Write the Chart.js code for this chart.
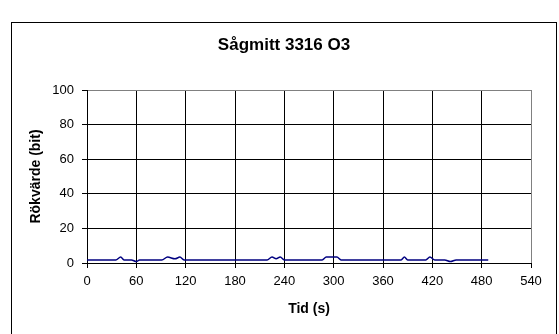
<!DOCTYPE html>
<html>
<head>
<meta charset="utf-8">
<script src="https://cdn.jsdelivr.net/npm/chart.js@4"></script>
<style>
    body { margin: 0; background: #fff; }
    canvas { display: block; }
</style>
</head>
<body>
<canvas id="smokeChart" width="559" height="334"></canvas>
<script>
// tid (s) och rökvärde (bit)
const tider = [0, 35, 41, 45, 54, 60, 64, 91, 98, 107, 113, 118, 219, 225, 230, 235, 240, 286, 291, 304, 309, 382, 386, 390, 412, 417, 423, 435, 442, 449, 488];
const rokvarden = [1.8, 1.8, 3.4, 1.8, 1.8, 0.8, 1.8, 1.8, 3.4, 2.4, 3.4, 1.8, 1.8, 3.4, 2.4, 3.4, 1.8, 1.8, 3.4, 3.4, 1.8, 1.8, 3.4, 1.8, 1.8, 3.4, 1.8, 1.8, 0.8, 1.8, 1.8];

const xTicks = [0, 60, 120, 180, 240, 300, 360, 420, 480, 540];
const yTicks = [0, 20, 40, 60, 80, 100];

const chartTitle = 'Sågmitt 3316 O3';
const FONT = "'Liberation Sans', Arial, sans-serif";

// ram runt hela diagrammet + rubrik
const framePlugin = {
    id: 'frame',
    afterDraw(chart) {
        const ctx = chart.ctx;
        ctx.save();
        ctx.strokeStyle = '#000';
        ctx.lineWidth = 1;
        ctx.strokeRect(11.5, 22.5, 545, 330);
        ctx.fillStyle = '#000';
        ctx.font = 'bold 17px ' + FONT;
        ctx.textAlign = 'center';
        ctx.textBaseline = 'middle';
        ctx.fillText(chartTitle, 284, 45);
        ctx.restore();
    }
};

const points = tider.map((t, i) => ({ x: t, y: rokvarden[i] }));

new Chart(document.getElementById('smokeChart').getContext('2d'), {
    type: 'line',
    plugins: [framePlugin],
    data: {
        datasets: [{
            label: 'Rökvärde',
            data: points,
            borderColor: '#000080',
            borderWidth: 1.5,
            pointRadius: 0,
            cubicInterpolationMode: 'monotone',
            fill: false
        }]
    },
    options: {
        responsive: false,
        animation: false,
        devicePixelRatio: 1,
        layout: {
            padding: { left: 12, right: 28, top: 90, bottom: 0 }
        },
        plugins: {
            legend: { display: false },
            title: { display: false },
            tooltip: { enabled: false }
        },
        scales: {
            x: {
                type: 'linear',
                min: 0,
                max: 540,
                afterBuildTicks: (scale) => { scale.ticks = xTicks.map(v => ({ value: v })); },
                afterFit: (scale) => { scale.height = 71; },
                ticks: {
                    color: '#000',
                    font: { family: FONT, size: 13 },
                    padding: 6,
                    maxRotation: 0
                },
                grid: {
                    color: (c) => c.tick && c.tick.value === 540 ? '#808080' : '#000',
                    tickColor: '#000',
                    tickLength: 5,
                    lineWidth: 1
                },
                border: { color: '#000', width: 1 },
                title: {
                    display: true,
                    text: 'Tid (s)',
                    color: '#000',
                    font: { family: FONT, size: 14, weight: 'bold' },
                    padding: { top: 0, bottom: 16 }
                }
            },
            y: {
                min: 0,
                max: 100,
                afterBuildTicks: (scale) => { scale.ticks = yTicks.map(v => ({ value: v })); },
                afterFit: (scale) => { scale.width = 75; },
                ticks: {
                    color: '#000',
                    font: { family: FONT, size: 13 },
                    padding: 8
                },
                grid: {
                    color: (c) => c.tick && c.tick.value === 100 ? '#808080' : '#000',
                    tickColor: '#000',
                    tickLength: 5,
                    lineWidth: 1
                },
                border: { color: '#000', width: 1 },
                title: {
                    display: true,
                    text: 'Rökvärde (bit)',
                    color: '#000',
                    font: { family: FONT, size: 14, weight: 'bold' },
                    padding: { top: 16, bottom: 0 }
                }
            }
        }
    }
});
</script>
</body>
</html>
